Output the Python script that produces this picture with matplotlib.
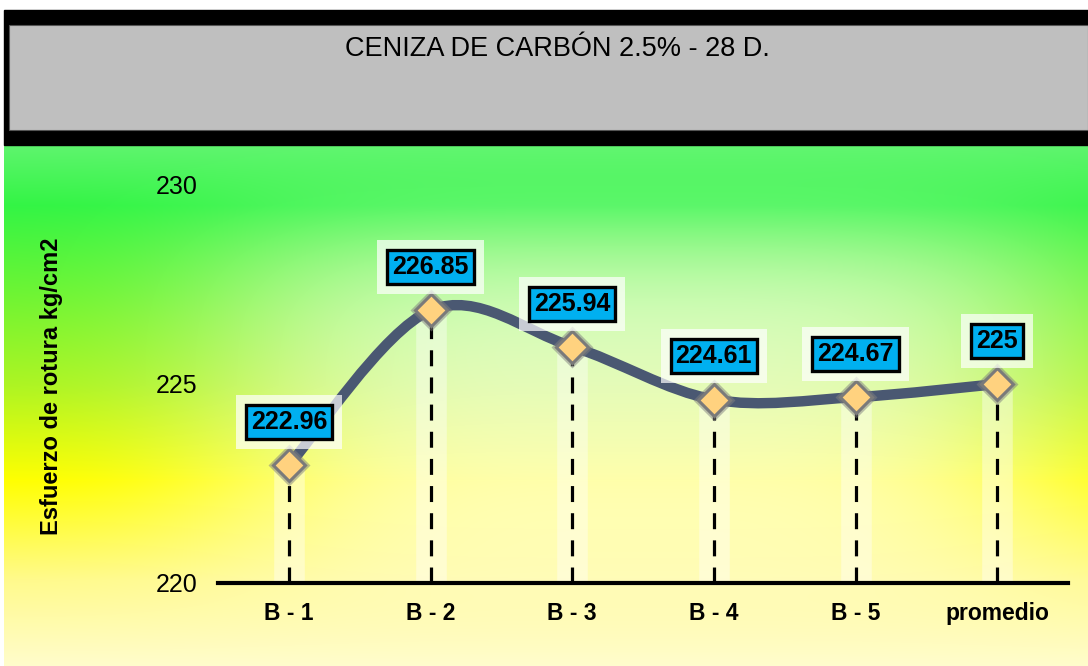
import numpy as np
import matplotlib
matplotlib.use("Agg")
import matplotlib.pyplot as plt
from matplotlib.path import Path
from matplotlib.patches import PathPatch, Rectangle

categories = ["B - 1", "B - 2", "B - 3", "B - 4", "B - 5", "promedio"]
values = [222.96, 226.85, 225.94, 224.61, 224.67, 225.0]
y_ticks = [220, 225, 230]
title = "CENIZA DE CARBÓN 2.5% - 28 D."
y_label = "Esfuerzo de rotura kg/cm2"

W, H = 1088, 666
fig = plt.figure(figsize=(W / 100, H / 100), dpi=100)
plt.rcParams["font.family"] = ["Liberation Sans", "DejaVu Sans"]

# background: green -> yellow -> pale yellow with a whitish glow in the middle
bg = fig.add_axes([0, 0, 1, 1], zorder=-5)
bg.set_xlim(0, W)
bg.set_ylim(H, 0)
bg.axis("off")
stops_y = [145, 205, 290, 385, 480, 580, 666]
stops_c = np.array([
    [0.37, 0.96, 0.43],
    [0.20, 0.96, 0.27],
    [0.42, 0.96, 0.20],
    [0.68, 0.96, 0.13],
    [1.00, 1.00, 0.00],
    [1.00, 0.98, 0.55],
    [1.00, 0.99, 0.80],
])
yy = np.arange(145, H)
xx = np.arange(4, W)
col = np.stack([np.interp(yy, stops_y, stops_c[:, k]) for k in range(3)], axis=1)
img = np.repeat(col[:, None, :], len(xx), axis=1)
X, Y = np.meshgrid(xx, yy)
w = 0.68 * np.exp(-((X - 640) / 430.0) ** 4 - ((Y - 410) / 195.0) ** 4)
img = img * (1 - w[..., None]) + w[..., None]
bg.imshow(img, extent=(4, W, H, 145), aspect="auto", interpolation="bilinear")
# header
bg.add_patch(Rectangle((4, 10), W - 4, 135, color="black"))
bg.add_patch(Rectangle((9, 25), W - 9, 105, facecolor="#bfbfbf", edgecolor="#555555", lw=0.8))
bg.text(557, 49, title, ha="center", va="center", fontsize=19.5,
        family=["Liberation Sans Narrow", "Liberation Sans", "DejaVu Sans"], color="black")

ax = fig.add_axes([218 / W, 1 - 583 / H, 850 / W, (583 - 185) / H])
ax.patch.set_alpha(0)
x = np.arange(len(values))
ax.set_xlim(-0.5, len(values) - 0.5)
ax.set_ylim(220, 230)

# smooth line (Excel-like Catmull-Rom via cubic bezier segments)
pts = np.column_stack([x, values])
ext = np.vstack([pts[0], pts, pts[-1]])
verts = [tuple(pts[0])]
codes = [Path.MOVETO]
for i in range(len(pts) - 1):
    p0, p1, p2, p3 = ext[i], ext[i + 1], ext[i + 2], ext[i + 3]
    c1 = p1 + (p2 - p0) / 6.0
    c2 = p2 - (p3 - p1) / 6.0
    verts += [tuple(c1), tuple(c2), tuple(p2)]
    codes += [Path.CURVE4] * 3
curve = Path(verts, codes)
ax.add_patch(PathPatch(curve, facecolor="none", edgecolor="#4a5872", lw=7.5,
                       capstyle="round", zorder=3))

# glow columns and drop lines
ax.vlines(x, 220, values, colors="white", lw=22, alpha=0.4, zorder=1)
ax.vlines(x, 220, values, colors="black", lw=2.3, linestyles=(0, (5, 3.5)), zorder=2)

# markers
ax.plot(x, values, "D", ms=21, color="#808080", alpha=0.5, zorder=4, mec="none")
ax.plot(x, values, "D", ms=16, mfc="#ffd27f", mec="#7a7a7a", mew=2.2, zorder=5)

# data labels
for xi, v in zip(x, values):
    lbl = "{:g}".format(v)
    ax.annotate(lbl, (xi, v), xytext=(0, 31), textcoords="offset points",
                ha="center", va="center", fontsize=18, fontweight="bold", color="none",
                bbox=dict(boxstyle="square,pad=0.6", fc="white", ec="none", alpha=0.7),
                zorder=6)
    ax.annotate(lbl, (xi, v), xytext=(0, 31), textcoords="offset points",
                ha="center", va="center", fontsize=18, fontweight="bold", color="black",
                bbox=dict(boxstyle="square,pad=0.2", fc="#00b0f0", ec="black", lw=2.4),
                zorder=7)

ax.set_xticks(x)
ax.set_xticklabels(categories, fontsize=16.5, fontweight="bold")
ax.set_yticks(y_ticks)
ax.set_yticklabels([str(t) for t in y_ticks], fontsize=18)
ax.tick_params(axis="both", length=0)
ax.tick_params(axis="x", pad=14)
ax.tick_params(axis="y", pad=15)
for s in ["top", "right", "left"]:
    ax.spines[s].set_visible(False)
ax.spines["bottom"].set_linewidth(3)
ax.spines["bottom"].set_zorder(2.5)

fig.text(52 / W, 1 - 386 / H, y_label, rotation=90, ha="center", va="center",
         fontsize=17, fontweight="bold")

fig.savefig("out.png", dpi=100)
